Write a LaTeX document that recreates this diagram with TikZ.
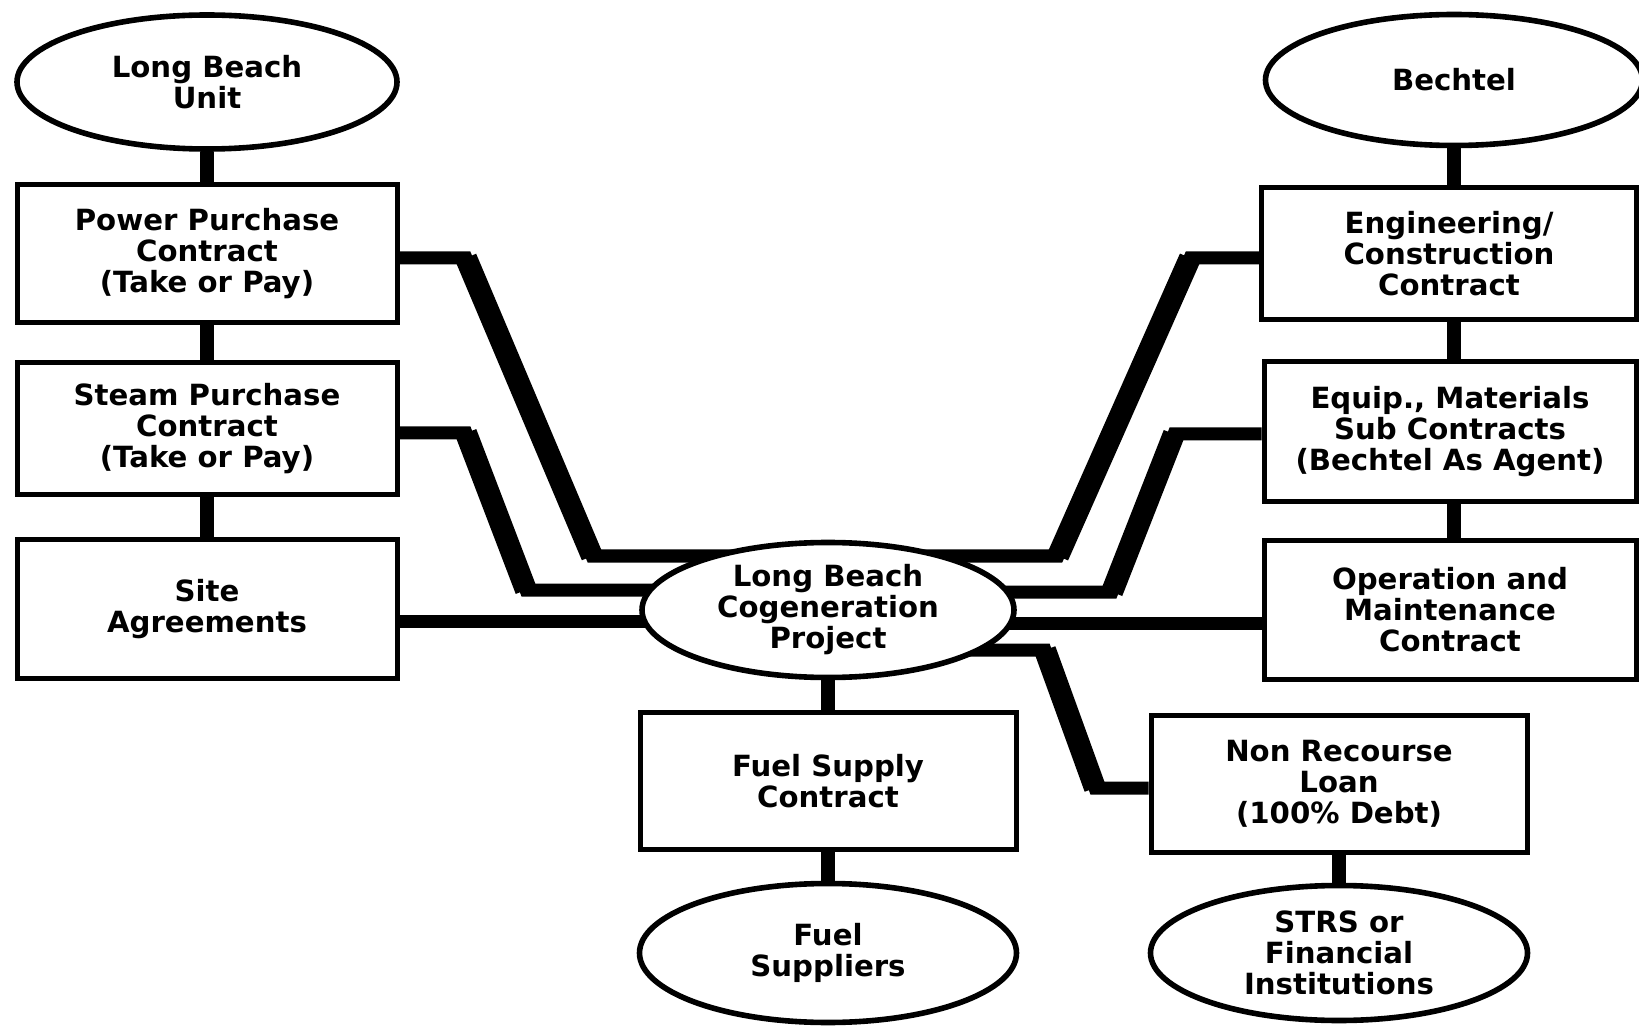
\documentclass[tikz,border=0pt]{standalone}
\usepackage{fontspec}
\setmainfont{DejaVu Sans}
\usetikzlibrary{shapes.geometric,backgrounds}

\begin{document}
\begin{tikzpicture}[x=0.5pt,y=-0.5pt,
        box/.style={draw,rectangle,line width=2.5pt,fill=white,inner sep=0pt,align=center,
            font=\bfseries\fontsize{14.6}{15.5}\selectfont},
        oval/.style={box,ellipse,line width=2.8pt},
        stem/.style={line width=7pt},
        link/.style={line width=6.5pt},
        slant/.style={line width=11pt}]
                \useasboundingbox (0,0) rectangle (1639,1026);
                \node [oval,minimum width=190pt,minimum height=67pt] (lbu) at (207,82) {Long Beach\\Unit};
                \node [box,minimum width=190pt,minimum height=69pt] (ppc) at (207,254) {Power Purchase\\Contract\\(Take or Pay)};
                \node [box,minimum width=190pt,minimum height=66pt] (spc) at (207,429) {Steam Purchase\\Contract\\(Take or Pay)};
                \node [box,minimum width=190pt,minimum height=69pt] (site) at (207,609) {Site\\Agreements};
                \node [oval,minimum width=186pt,minimum height=67.5pt] (cogen) at (828,610) {Long Beach\\Cogeneration\\Project};
                \node [box,minimum width=188pt,minimum height=68.5pt] (fuel) at (828,781) {Fuel Supply\\Contract};
                \node [oval,minimum width=188.5pt,minimum height=69.5pt] (fuelsup) at (828,953) {Fuel\\Suppliers};
                \node [oval,minimum width=188.5pt,minimum height=65.5pt] (bechtel) at (1454,80) {Bechtel};
                \node [box,minimum width=187.5pt,minimum height=66pt] (eng) at (1449,254) {Engineering/\\Construction\\Contract};
                \node [box,minimum width=186pt,minimum height=70pt] (equip) at (1450,432) {Equip., Materials\\Sub Contracts\\(Bechtel As Agent)};
                \node [box,minimum width=186pt,minimum height=69.5pt] (om) at (1450,610) {Operation and\\Maintenance\\Contract};
                \node [box,minimum width=188pt,minimum height=68.5pt] (nrl) at (1339,784) {Non Recourse\\Loan\\(100\% Debt)};
                \node [oval,minimum width=188.5pt,minimum height=67.5pt] (strs) at (1339,953) {STRS or\\Financial\\Institutions};
                \coordinate (ppcA) at (466,258);
                \coordinate (ppcB) at (592,556);
                \coordinate (spcA) at (466,433);
                \coordinate (spcB) at (526,590);
                \coordinate (siteY) at (0,621);
                \coordinate (engA) at (1190,258);
                \coordinate (engB) at (1058,556);
                \coordinate (equipA) at (1174,434);
                \coordinate (equipB) at (1112,592);
                \coordinate (omY) at (0,623);
                \coordinate (nrlA) at (1045,650);
                \coordinate (nrlB) at (1095,788);
                \begin{scope}[on background layer]
                \draw [stem] (lbu) -- (ppc) -- (spc) -- (site);
                \draw [stem] (bechtel) -- (bechtel |- om);
                \draw [stem] (cogen) -- (fuel) -- (fuelsup);
                \draw [stem] (nrl) -- (strs);
                \draw [link] (ppc.east |- ppcA) -- (ppcA) -- (ppcB) -- (cogen.center |- ppcB);
                \draw [slant] (ppcA) -- (ppcB);
                \draw [link] (spc.east |- spcA) -- (spcA) -- (spcB) -- (cogen.center |- spcB);
                \draw [slant] (spcA) -- (spcB);
                \draw [link] (site.east |- siteY) -- (cogen.center |- siteY);
                \draw [link] (eng.west |- engA) -- (engA) -- (engB) -- (cogen.center |- engB);
                \draw [slant] (engA) -- (engB);
                \draw [link] (equip.west |- equipA) -- (equipA) -- (equipB) -- (cogen.center |- equipB);
                \draw [slant] (equipA) -- (equipB);
                \draw [link] (om.west |- omY) -- (cogen.center |- omY);
                \draw [link] (cogen.center |- nrlA) -- (nrlA) -- (nrlB) -- (nrl.west |- nrlB);
                \draw [slant] (nrlA) -- (nrlB);
                \end{scope}
            \end{tikzpicture}
\end{document}
